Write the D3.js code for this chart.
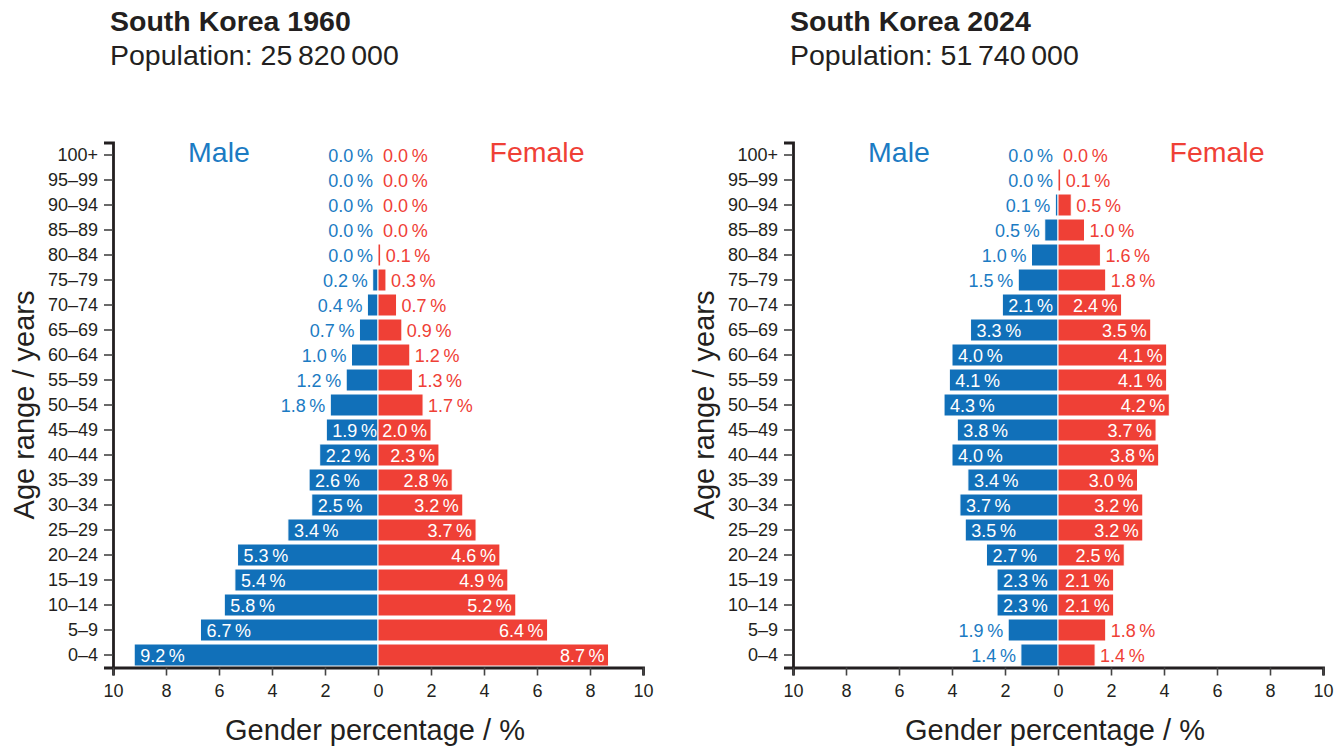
<!DOCTYPE html>
<html><head><meta charset="utf-8">
<script src="https://cdn.jsdelivr.net/npm/d3@7"></script>
<style>
html,body{margin:0;padding:0;background:#fff;}
svg{display:block;font-family:"Liberation Sans",Arial,Helvetica,sans-serif;}
</style></head>
<body>
<svg id="chart" width="1344" height="747"></svg>
<script>
const ageGroups = ["0–4","5–9","10–14","15–19","20–24","25–29","30–34","35–39","40–44","45–49","50–54","55–59","60–64","65–69","70–74","75–79","80–84","85–89","90–94","95–99","100+"];
const male1960   = [9.2,6.7,5.8,5.4,5.3,3.4,2.5,2.6,2.2,1.95,1.8,1.2,1.0,0.7,0.4,0.2,0.0,0.0,0.0,0.0,0.0];
const female1960 = [8.7,6.4,5.2,4.9,4.6,3.7,3.2,2.8,2.3,2.0,1.7,1.3,1.2,0.9,0.7,0.3,0.1,0.0,0.0,0.0,0.0];
const male2024   = [1.4,1.88,2.3,2.3,2.7,3.5,3.7,3.4,4.0,3.8,4.3,4.1,4.0,3.3,2.1,1.5,1.0,0.5,0.1,0.0,0.0];
const female2024 = [1.4,1.8,2.1,2.1,2.5,3.2,3.2,3.0,3.8,3.7,4.2,4.1,4.1,3.5,2.4,1.8,1.6,1.0,0.5,0.1,0.0];
const xTicks = [-10,-8,-6,-4,-2,0,2,4,6,8,10];
const panels = [
  {title:"South Korea 1960", population:"25\u2009820\u2009000", male:male1960, female:female1960},
  {title:"South Korea 2024", population:"51\u2009740\u2009000", male:male2024, female:female2024}
];

const BLUE = "#1170b9", RED = "#ef4036", BLUE_T = "#1b7bc3", RED_T = "#ef4036", INK = "#231f20";
const svg = d3.select("#chart");

panels.forEach((p, i) => {
  const g = svg.append("g").attr("transform", `translate(${i*680},0)`);
  const x = d3.scaleLinear().domain([-10,10]).range([113,643]);
  const y = d3.scaleBand().domain(ageGroups).range([667.5,142.5]).paddingInner(0.12).paddingOuter(0.06);
  const bw = y.bandwidth();
  const rows = ageGroups.map((a,k)=>({age:a, m:p.male[k], f:p.female[k]}));

  // titles
  g.append("text").attr("x",110).attr("y",31).attr("font-size",28.5).attr("font-weight","bold").attr("fill",INK).text(p.title);
  g.append("text").attr("x",110).attr("y",65).attr("font-size",28.5).attr("fill",INK).text("Population: " + p.population);

  // bars
  g.selectAll(".bm").data(rows).join("rect")
    .attr("x", d=>x(-d.m)).attr("width", d=>x(0)-x(-d.m))
    .attr("y", d=>y(d.age)).attr("height", bw)
    .attr("fill", BLUE).attr("stroke","#fff").attr("stroke-width",1);
  g.selectAll(".bf").data(rows).join("rect")
    .attr("x", x(0)).attr("width", d=>x(d.f)-x(0))
    .attr("y", d=>y(d.age)).attr("height", bw)
    .attr("fill", RED).attr("stroke","#fff").attr("stroke-width",1);

  const fmt = v => v.toFixed(1) + "\u2009%";
  const TH = 1.9;
  // male labels
  g.selectAll(".lm").data(rows).join("text")
    .attr("font-size",18)
    .attr("y", d=>y(d.age)+bw/2+6.5)
    .attr("x", d=> d.m>=TH ? x(-d.m)+6 : x(-d.m)-5)
    .attr("text-anchor", d=> d.m>=TH ? "start" : "end")
    .attr("fill", d=> d.m>=TH ? "#fff" : BLUE_T)
    .text(d=>fmt(d.m));
  // female labels
  g.selectAll(".lf").data(rows).join("text")
    .attr("font-size",18)
    .attr("y", d=>y(d.age)+bw/2+6.5)
    .attr("x", d=> d.f>=TH ? x(d.f)-4 : x(d.f)+5)
    .attr("text-anchor", d=> d.f>=TH ? "end" : "start")
    .attr("fill", d=> d.f>=TH ? "#fff" : RED_T)
    .text(d=>fmt(d.f));

  // Male / Female headers
  const topY = y("100+")+bw/2+6.5;
  g.append("text").attr("x",x(-6)).attr("y",topY).attr("text-anchor","middle").attr("font-size",28.5).attr("fill",BLUE_T).text("Male");
  g.append("text").attr("x",x(6)).attr("y",topY).attr("text-anchor","middle").attr("font-size",28.5).attr("fill",RED_T).text("Female");

  // y axis
  const ya = g.append("g").attr("transform","translate(113,0)")
    .call(d3.axisLeft(y).tickSize(9).tickSizeOuter(9).tickPadding(6));
  ya.select(".domain").attr("stroke",INK).attr("stroke-width",2.8);
  ya.selectAll(".tick line").attr("stroke","#444").attr("stroke-width",1.6);
  ya.selectAll(".tick text").attr("font-size",18).attr("fill",INK).attr("font-family","Liberation Sans, Arial, sans-serif");

  // x axis
  const xa = g.append("g").attr("transform","translate(0,667.5)")
    .call(d3.axisBottom(x).tickValues(xTicks).tickFormat(v=>Math.abs(v)).tickSize(8).tickSizeOuter(8).tickPadding(9));
  xa.select(".domain").attr("stroke",INK).attr("stroke-width",2.8);
  xa.selectAll(".tick line").attr("stroke","#444").attr("stroke-width",1.6);
  xa.selectAll(".tick text").attr("font-size",18).attr("fill",INK).attr("font-family","Liberation Sans, Arial, sans-serif");

  // axis titles
  g.append("text").attr("x",x(0)-3).attr("y",740).attr("text-anchor","middle").attr("font-size",29).attr("fill",INK).text("Gender percentage / %");
  g.append("text").attr("transform",`translate(34,${(142.5+667.5)/2}) rotate(-90)`).attr("text-anchor","middle").attr("font-size",29).attr("fill",INK).text("Age range / years");
});
</script>
</body></html>
